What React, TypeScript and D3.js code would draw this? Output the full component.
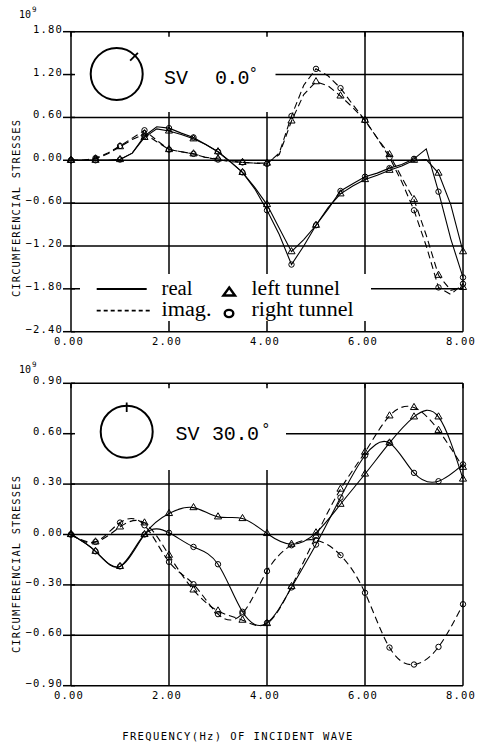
import * as d3 from 'd3'

// SV 0.0 deg panel, read at 0.25 Hz steps (markers every 0.5 Hz)
const freqTop = [0, 0.25, 0.5, 0.75, 1, 1.25, 1.5, 1.75, 2, 2.25, 2.5, 2.75, 3, 3.25, 3.5, 3.75, 4,
  4.25, 4.5, 4.75, 5, 5.25, 5.5, 5.75, 6, 6.25, 6.5, 6.75, 7, 7.25, 7.5, 7.75, 8]
const realLeftTop = [0, 0, 0, 0, 0.01, 0.10, 0.32, 0.44, 0.41, 0.36, 0.30, 0.22, 0.12, -0.02, -0.17, -0.38, -0.62,
  -0.95, -1.28, -1.11, -0.91, -0.66, -0.47, -0.36, -0.27, -0.21, -0.14, -0.08, 0.00, 0.01, -0.18, -0.62, -1.28]
const realRightTop = [0, 0, 0, 0, 0.01, 0.10, 0.34, 0.47, 0.45, 0.38, 0.32, 0.22, 0.12, -0.02, -0.17, -0.40, -0.70,
  -1.04, -1.46, -1.20, -0.91, -0.68, -0.43, -0.33, -0.23, -0.18, -0.11, -0.06, 0.02, 0.16, -0.44, -1.10, -1.64]
const imagLeftTop = [0, 0, 0.02, 0.09, 0.19, 0.29, 0.37, 0.26, 0.15, 0.12, 0.09, 0.04, 0.02, -0.01, -0.03, -0.04, -0.04,
  0.08, 0.55, 0.92, 1.10, 1.04, 0.90, 0.74, 0.56, 0.31, 0.08, -0.24, -0.55, -1.05, -1.61, -1.82, -1.78]
const imagRightTop = [0, 0, 0.03, 0.10, 0.20, 0.31, 0.42, 0.28, 0.15, 0.12, 0.09, 0.04, 0.01, -0.02, -0.03, -0.04, -0.05,
  0.10, 0.62, 1.05, 1.28, 1.18, 1.01, 0.78, 0.56, 0.31, 0.04, -0.30, -0.70, -1.20, -1.78, -1.88, -1.73]

// SV 30.0 deg panel, 0.5 Hz steps
const freqBottom = [0, 0.5, 1, 1.5, 2, 2.5, 3, 3.5, 4, 4.5, 5, 5.5, 6, 6.5, 7, 7.5, 8]
const realLeftBottom = [0, -0.10, -0.19, 0.00, 0.125, 0.16, 0.105, 0.095, 0.006, -0.058, 0.01, 0.18, 0.36, 0.545, 0.70, 0.70, 0.33]
const realRightBottom = [0, -0.10, -0.19, 0.00, 0.01, -0.074, -0.177, -0.46, -0.526, -0.315, -0.06, 0.22, 0.47, 0.545, 0.367, 0.317, 0.417]
const imagLeftBottom = [0, -0.044, 0.045, 0.069, -0.123, -0.33, -0.455, -0.51, -0.53, -0.31, -0.01, 0.27, 0.49, 0.706, 0.756, 0.62, 0.40]
const imagRightBottom = [0, -0.044, 0.071, 0.055, -0.163, -0.296, -0.474, -0.47, -0.218, -0.064, -0.034, -0.123, -0.347, -0.673, -0.774, -0.669, -0.415]

const xTicks = [0, 2, 4, 6, 8]
const yTicksTop = [1.8, 1.2, 0.6, 0, -0.6, -1.2, -1.8, -2.4]
const yTicksBottom = [0.9, 0.6, 0.3, 0, -0.3, -0.6, -0.9]
const partLabels = ['real', 'imag.']
const tunnelLabels = ['left tunnel', 'right tunnel']

const monoFont = 'DejaVu Sans Mono'
const typeFont = 'Liberation Mono'
const serifFont = 'Liberation Serif'

const x0 = 71
const x1 = 463

function Marker({ kind, x, y }) {
  if (kind === 'circle') {
    return <circle cx={x} cy={y} r={2.7} fill="none" stroke="#000" strokeWidth={1} />
  }
  const path = d3.symbol(d3.symbolTriangle, 22)()
  return <path d={path} transform={`translate(${x},${y})`} fill="none" stroke="#000" strokeWidth={1} />
}

function Panel({ freq, series, yDomain, yRange, yTicks, curve, masks, children }) {
  const xScale = d3.scaleLinear().domain([0, 8]).range([x0, x1])
  const yScale = d3.scaleLinear().domain(yDomain).range(yRange)
  const yTop = yScale(yDomain[1])
  const yBottom = yScale(yDomain[0])

  const line = d3.line()
    .x(d => xScale(d[0]))
    .y(d => yScale(d[1]))
    .curve(curve)

  return (
    <g>
      {/* grid */}
      {yTicks.map(t => (
        <line key={'h' + t} x1={x0} x2={x1} y1={yScale(t)} y2={yScale(t)} stroke="#000" strokeWidth={1.5} />
      ))}
      {xTicks.map(t => (
        <line key={'v' + t} x1={xScale(t)} x2={xScale(t)} y1={yTop} y2={yBottom} stroke="#000" strokeWidth={1.5} />
      ))}
      {masks.map((m, i) => (
        <rect key={'m' + i} x={m[0]} y={m[1]} width={m[2] - m[0]} height={m[3] - m[1]} fill="#fff" />
      ))}
      {/* ticks */}
      {xTicks.map(t => (
        <line key={'tt' + t} x1={xScale(t)} x2={xScale(t)} y1={yTop} y2={yTop + 5} stroke="#000" strokeWidth={1.5} />
      ))}
      {yTicks.map(t => (
        <line key={'ts' + t} x1={x0 - 8} x2={x0 + 4} y1={yScale(t)} y2={yScale(t)} stroke="#000" strokeWidth={1.5} />
      ))}
      {yTicks.map(t => (
        <text key={'yl' + t} x={x0 - 8} y={yScale(t) + 1} textAnchor="end"
          fontFamily={monoFont} fontSize={10.5} letterSpacing={1.2}>{d3.format('.2f')(t)}</text>
      ))}
      {xTicks.map(t => (
        <text key={'xl' + t} x={xScale(t) - 2} y={yBottom + 13.5} textAnchor="middle"
          fontFamily={monoFont} fontSize={10.5} letterSpacing={1.2}>{d3.format('.2f')(t)}</text>
      ))}
      {/* curves */}
      {series.map((s, i) => (
        <path key={'c' + i} d={line(freq.map((f, j) => [f, s.values[j]]))} fill="none" stroke="#000"
          strokeWidth={1.1} strokeDasharray={s.dashed ? '7,4' : null} />
      ))}
      {series.map((s, i) => (
        <g key={'k' + i}>
          {freq.map((f, j) => (Math.round(f * 2) === f * 2
            ? <Marker key={j} kind={s.marker} x={xScale(f)} y={yScale(s.values[j])} />
            : null))}
        </g>
      ))}
      {children}
    </g>
  )
}

export default function App() {
  const topSeries = [
    { values: realLeftTop, marker: 'triangle', dashed: false },
    { values: realRightTop, marker: 'circle', dashed: false },
    { values: imagLeftTop, marker: 'triangle', dashed: true },
    { values: imagRightTop, marker: 'circle', dashed: true }
  ]
  const bottomSeries = [
    { values: realLeftBottom, marker: 'triangle', dashed: false },
    { values: realRightBottom, marker: 'circle', dashed: false },
    { values: imagLeftBottom, marker: 'triangle', dashed: true },
    { values: imagRightBottom, marker: 'circle', dashed: true }
  ]

  const tickAngle = -Math.PI / 4

  return (
    <svg width={481} height={745} viewBox="0 0 481 745"
      style={{ position: 'absolute', left: 0, top: 0, background: '#fff' }}>
      <rect width={481} height={745} fill="#fff" />

      <Panel freq={freqTop} series={topSeries} yDomain={[-2.4, 1.8]} yRange={[331.7, 31.7]}
        yTicks={yTicksTop} curve={d3.curveLinear}
        masks={[[72.5, 33, 275.5, 112], [80, 274, 371, 321]]}>
        <circle cx={116.7} cy={74} r={26} fill="none" stroke="#000" strokeWidth={2} />
        <line x1={116.7 + 19 * Math.cos(tickAngle)} y1={74 + 19 * Math.sin(tickAngle)}
          x2={116.7 + 30 * Math.cos(tickAngle)} y2={74 + 30 * Math.sin(tickAngle)} stroke="#000" strokeWidth={1.8} />
        <text x={164} y={83.5} fontFamily={typeFont} fontSize={20}>SV</text>
        <text x={215} y={83.5} fontFamily={typeFont} fontSize={20} letterSpacing={-0.8}>0.0</text>
        <text x={248.5} y={77.5} fontFamily={typeFont} fontSize={16}>°</text>
        {/* legend */}
        <line x1={96.7} x2={146.7} y1={289} y2={289} stroke="#000" strokeWidth={2} />
        <line x1={96.7} x2={150} y1={310.7} y2={310.7} stroke="#000" strokeWidth={1.8} strokeDasharray="4,3" />
        <text x={161.5} y={294.5} fontFamily={serifFont} fontSize={20} textLength={31}
          lengthAdjust="spacingAndGlyphs">{partLabels[0]}</text>
        <text x={161.5} y={316.2} fontFamily={serifFont} fontSize={20} textLength={50}
          lengthAdjust="spacingAndGlyphs">{partLabels[1]}</text>
        <polygon points="229.2,287.5 235,295.5 223.4,295.5" fill="none" stroke="#000" strokeWidth={2.4} strokeLinejoin="miter" />
        <ellipse cx={229} cy={313.5} rx={4.3} ry={3.6} fill="none" stroke="#000" strokeWidth={2.4} />
        <text x={251.5} y={294.5} fontFamily={serifFont} fontSize={20} textLength={88.5}
          lengthAdjust="spacingAndGlyphs">{tunnelLabels[0]}</text>
        <text x={251.5} y={316.2} fontFamily={serifFont} fontSize={20} textLength={102}
          lengthAdjust="spacingAndGlyphs">{tunnelLabels[1]}</text>
      </Panel>

      <Panel freq={freqBottom} series={bottomSeries} yDomain={[-0.9, 0.9]} yRange={[685.7, 383.3]}
        yTicks={yTicksBottom} curve={d3.curveNatural}
        masks={[[72.5, 384.8, 286, 470]]}>
        <circle cx={126.7} cy={431.7} r={26} fill="none" stroke="#000" strokeWidth={2} />
        <line x1={126.7} x2={126.7} y1={402.5} y2={412} stroke="#000" strokeWidth={1.8} />
        <text x={175.5} y={439.5} fontFamily={typeFont} fontSize={20}>SV</text>
        <text x={212} y={439.5} fontFamily={typeFont} fontSize={20} letterSpacing={-0.3}>30.0</text>
        <text x={261} y={433.5} fontFamily={typeFont} fontSize={16}>°</text>
      </Panel>

      {/* exponent labels */}
      <text x={19} y={17.5} fontFamily={monoFont} fontSize={10}>10</text>
      <text x={32} y={12} fontFamily={monoFont} fontSize={7.5}>9</text>
      <text x={19} y={372.5} fontFamily={monoFont} fontSize={10}>10</text>
      <text x={32} y={367} fontFamily={monoFont} fontSize={7.5}>9</text>

      {/* axis titles */}
      <text transform="translate(20,208) rotate(-90)" textAnchor="middle" fontFamily={monoFont}
        fontSize={10.5} letterSpacing={1.1}>CIRCUMFERENCIAL STRESSES</text>
      <text transform="translate(20,564) rotate(-90)" textAnchor="middle" fontFamily={monoFont}
        fontSize={10.5} letterSpacing={1.1}>CIRCUMFERENCIAL STRESSES</text>
      <text x={238} y={740} textAnchor="middle" fontFamily={monoFont} fontSize={10.5}
        letterSpacing={1.4}>FREQUENCY(Hz) OF INCIDENT WAVE</text>
    </svg>
  )
}
